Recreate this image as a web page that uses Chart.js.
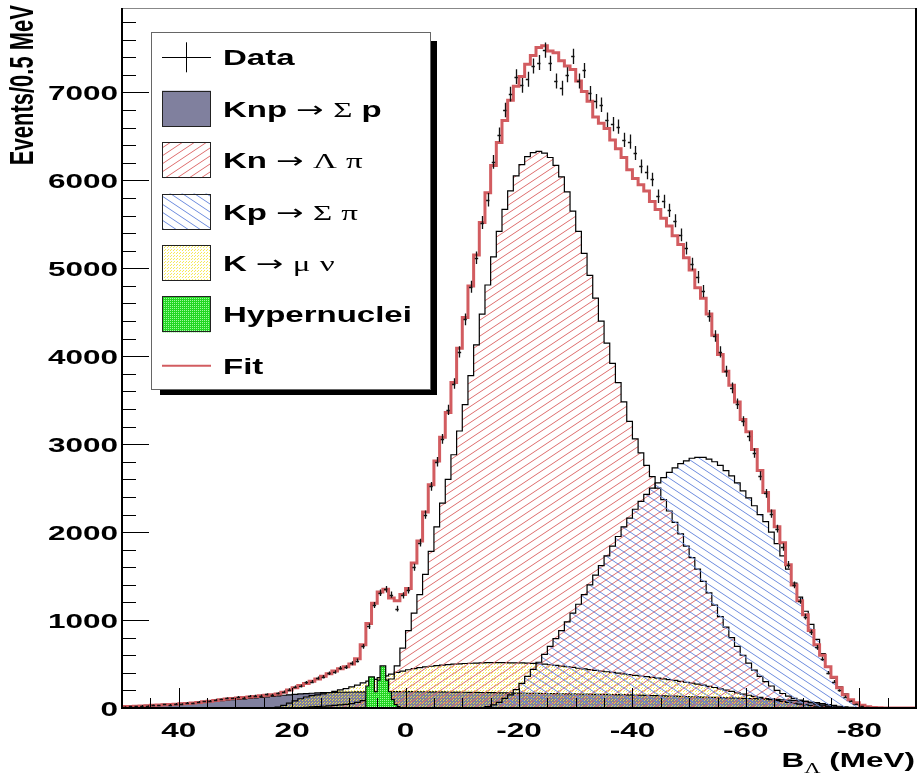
<!DOCTYPE html>
<html>
<head>
<meta charset="utf-8">
<script src="https://cdn.jsdelivr.net/npm/chart.js@4.4.0/dist/chart.umd.min.js"></script>
<style>
  html, body { margin: 0; padding: 0; background: #fff; }
</style>
</head>
<body>
<canvas id="myChart" width="920" height="775"></canvas>
<script>
// B_Lambda spectrum, axis runs from +50 (left) to -90 (right)
const xMin = -90;
const xMax = 50;
const yMax = 7960;

// 1 MeV bins, listed from the start edge toward -90; a value covers [edge-1, edge]
const fitStart = 50;
const fitValues = [
  16, 18, 20, 23, 26, 30, 33, 36, 40, 43,
  47, 52, 57, 63, 70, 77, 85, 93, 101, 108,
  114, 120, 126, 132, 138, 144, 150, 160, 180, 205,
  230, 255, 280, 305, 330, 360, 390, 420, 445, 470,
  500, 560, 720, 960, 1190, 1320, 1350, 1250, 1220, 1290,
  1360, 1650, 1900, 2230, 2540, 2810, 3080, 3360, 3700, 4090,
  4440, 4800, 5150, 5520, 5860, 6170, 6430, 6680, 6910, 7070,
  7180, 7320, 7420, 7510, 7530, 7470, 7450, 7360, 7300, 7260,
  7130, 7010, 6900, 6720, 6650, 6590, 6460, 6360, 6260, 6120,
  6020, 5950, 5880, 5760, 5670, 5570, 5480, 5370, 5270, 5120,
  4980, 4780, 4660, 4480, 4240, 4020, 3830, 3670, 3480, 3280,
  3140, 2940, 2700, 2450, 2240, 2060, 1880, 1630, 1400, 1220,
  1060, 880, 720, 600, 470, 350, 230, 150, 95, 60,
  32, 14, 6, 2, 1, 0, 0, 0, 0, 0
];

const dataStart = 50;
const dataValues = [
  15, 20, 18, 28, 25, 35, 30, 42, 38, 50,
  48, 60, 55, 72, 75, 82, 95, 98, 112, 110,
  125, 118, 135, 140, 142, 155, 150, 165, 185, 210,
  240, 250, 290, 300, 340, 355, 395, 410, 455, 465,
  510, 540, 700, 930, 1170, 1310, 1350, 1290, 1130, 1280,
  1340, 1600, 1880, 2200, 2520, 2800, 3060, 3390, 3690, 4050,
  4420, 4790, 5120, 5520, 5780, 6210, 6520, 6800, 6980, 7180,
  7080, 7150, 7300, 7340, 7480, 7330, 7130, 7050, 7200, 7410,
  7130, 7250, 6990, 6900, 6860, 6690, 6640, 6610, 6460, 6440,
  6310, 6160, 6090, 6010, 5820, 5760, 5660, 5540, 5380, 5230,
  5050, 4900, 4740, 4460, 4230, 4050, 3830, 3640, 3460, 3260,
  3090, 2900, 2640, 2440, 2210, 2040, 1830, 1630, 1400, 1220,
  1040, 860, 690, 560, 400, 300, 200, 130, 80, 45,
  22, 10, 5, 2, 1
];

const knpStart = 50;
const knpSigmaP = [
  15, 18, 21, 25, 29, 33, 37, 41, 45, 49,
  53, 57, 61, 65, 69, 74, 79, 84, 89, 94,
  99, 104, 109, 115, 121, 127, 133, 139, 145, 150,
  155, 160, 164, 168, 171, 174, 176, 178, 180, 181,
  182, 183, 184, 185, 185, 186, 186, 186, 186, 186,
  186, 186, 185, 185, 184, 184, 183, 182, 181, 180,
  179, 178, 177, 176, 175, 174, 173, 172, 171, 170,
  169, 168, 167, 166, 165, 164, 163, 162, 161, 160,
  159, 158, 157, 156, 155, 154, 153, 152, 151, 150,
  148, 146, 144, 142, 140, 138, 136, 134, 132, 130,
  128, 126, 124, 122, 120, 118, 116, 114, 112, 110,
  108, 106, 104, 102, 100, 97, 94, 90, 86, 81,
  75, 68, 60, 50, 40, 30, 20, 12, 6, 2
];

const kmuStart = 24;
const kMuNu = [
  0, 10, 30, 55, 80, 105, 125, 140, 150, 160,
  175, 190, 205, 220, 240, 260, 285, 305, 325, 345,
  365, 385, 405, 420, 435, 447, 458, 467, 475, 482,
  488, 493, 498, 502, 506, 509, 511, 513, 515, 516,
  516, 515, 514, 513, 512, 510, 507, 503, 498, 492,
  485, 477, 469, 461, 452, 444, 436, 428, 420, 412,
  404, 396, 388, 380, 372, 364, 356, 348, 340, 331,
  322, 313, 303, 293, 283, 272, 260, 247, 233, 218,
  203, 188, 173, 158, 145, 132, 120, 108, 96, 85,
  74, 64, 54, 44, 35, 27, 20, 14, 9, 5, 2
];

const knStart = 20;
const knLambdaPi = [
  2, 5, 8, 12, 16, 20, 25, 30, 36, 42,
  50, 65, 85, 110, 140, 180, 240, 330, 480, 680,
  880, 1080, 1290, 1520, 1780, 2060, 2330, 2600, 2880, 3150,
  3450, 3780, 4130, 4480, 4810, 5130, 5420, 5670, 5880, 6050,
  6180, 6270, 6315, 6330, 6310, 6260, 6170, 6040, 5870, 5650,
  5420, 5170, 4920, 4660, 4400, 4150, 3920, 3700, 3480, 3260,
  3060, 2900, 2760, 2630, 2500, 2370, 2240, 2110, 1980, 1840,
  1710, 1580, 1440, 1310, 1170, 1040, 920, 800, 700, 600,
  510, 430, 360, 300, 250, 200, 165, 135, 110, 90,
  75, 60, 45, 32, 22, 14, 8, 4, 2
];

const kpStart = -12;
const kpSigmaPi = [
  0, 5, 15, 35, 65, 110, 150, 210, 280, 360,
  440, 520, 610, 700, 790, 880, 980, 1080, 1180, 1290,
  1400, 1510, 1620, 1730, 1840, 1950, 2060, 2160, 2260, 2350,
  2430, 2500, 2560, 2620, 2680, 2730, 2780, 2810, 2840, 2850,
  2850, 2830, 2800, 2760, 2700, 2640, 2560, 2470, 2390, 2300,
  2200, 2120, 2000, 1870, 1730, 1580, 1420, 1260, 1100, 950,
  780, 620, 470, 340, 240, 160, 90, 45, 20, 8, 3
];

// hypernuclear peaks, original 0.5 MeV bins (upper edges)
const hyperEdges = [7.0, 6.5, 6.0, 5.5, 5.0, 4.5, 4.0, 3.5, 3.0, 2.5, 2.0, 1.5];
const hyperValues = [250, 353, 353, 185, 318, 478, 478, 318, 185, 95, 40, 15];

const yTicks = [0, 1000, 2000, 3000, 4000, 5000, 6000, 7000];
const xTicks = [40, 20, 0, -20, -40, -60, -80];

// ROOT style text is stretched horizontally in the picture
const stretch = 1.5;

function toSteps(start, values, width) {
  const pts = [{ x: start + width, y: 0 }];
  values.forEach((v, i) => pts.push({ x: start - i * width, y: v }));
  pts.push({ x: start - values.length * width, y: 0 });
  return pts;
}

function edgeSteps(edges, values, width) {
  const pts = [{ x: edges[0] + width, y: 0 }];
  edges.forEach((e, i) => pts.push({ x: e, y: values[i] }));
  pts.push({ x: edges[edges.length - 1] - width, y: 0 });
  return pts;
}

function hatch(color, up) {
  const c = document.createElement('canvas');
  const w = 12, h = 8;
  c.width = w; c.height = h;
  const g = c.getContext('2d');
  g.strokeStyle = color;
  g.lineWidth = 1;
  g.beginPath();
  [-h, 0, h].forEach(o => {
    if (up) { g.moveTo(0, h + o); g.lineTo(w, o); }
    else { g.moveTo(0, o); g.lineTo(w, h + o); }
  });
  g.stroke();
  return g.createPattern(c, 'repeat');
}

// dot pattern on an n x n tile
function dots(n, base, dot, spots) {
  const c = document.createElement('canvas');
  c.width = n; c.height = n;
  const g = c.getContext('2d');
  if (base) { g.fillStyle = base; g.fillRect(0, 0, n, n); }
  g.fillStyle = dot;
  spots.forEach(s => g.fillRect(s[0], s[1], 1, 1));
  return g.createPattern(c, 'repeat');
}

const redHatch = hatch('rgb(222,110,110)', true);
const blueHatch = hatch('rgb(110,140,222)', false);
const yellowDots = dots(3, null, 'rgba(245,230,60,0.85)', [[0, 0], [2, 1]]);
const greenDots = dots(2, 'rgb(35,215,35)', 'rgb(160,250,160)', [[0, 0]]);
const grayFill = 'rgb(128,128,158)';
const fitColor = 'rgb(210,92,96)';

const SYMS = '→ΣΛπμν';
function fontFor(ch, size) {
  if (ch === '→') return size + 'px "DejaVu Sans", sans-serif';
  if (SYMS.includes(ch)) return size + 'px "Liberation Serif", "DejaVu Serif", serif';
  return 'bold ' + size + 'px "Liberation Sans", Arial, sans-serif';
}

// draws mixed Latin / symbol text, stretched like the original
function drawRich(ctx, str, x, y, size, align) {
  const runs = [];
  for (const ch of str) {
    const f = fontFor(ch, size);
    const last = runs[runs.length - 1];
    if (last && last.f === f) last.t += ch; else runs.push({ t: ch, f: f });
  }
  let total = 0;
  runs.forEach(r => { ctx.font = r.f; r.w = ctx.measureText(r.t).width; total += r.w; });
  ctx.save();
  ctx.translate(x, y);
  ctx.scale(stretch, 1);
  ctx.textBaseline = 'alphabetic';
  ctx.textAlign = 'left';
  let cx = align === 'right' ? -total : align === 'center' ? -total / 2 : 0;
  runs.forEach(r => { ctx.font = r.f; ctx.fillText(r.t, cx, 0); cx += r.w; });
  ctx.restore();
}

const legendRows = ['Data', 'Knp → Σ p', 'Kn → Λ π', 'Kp → Σ π', 'K → μ ν', 'Hypernuclei', 'Fit'];

const rootStyle = {
  id: 'rootStyle',
  afterDatasetsDraw(chart) {
    const ctx = chart.ctx;
    const xs = chart.scales.x, ys = chart.scales.y;
    const a = chart.chartArea;

    // error bars of the data points
    const di = chart.data.datasets.findIndex(d => d.label === 'Data');
    const meta = chart.getDatasetMeta(di);
    ctx.save();
    ctx.beginPath();
    ctx.rect(a.left, a.top, a.right - a.left, a.bottom - a.top);
    ctx.clip();
    ctx.strokeStyle = '#111';
    ctx.lineWidth = 1.3;
    meta.data.forEach((pt, i) => {
      const raw = chart.data.datasets[di].data[i];
      const err = Math.sqrt(raw.y);
      const y1 = ys.getPixelForValue(raw.y - err);
      const y2 = ys.getPixelForValue(raw.y + err);
      const x1 = xs.getPixelForValue(raw.x + 0.3);
      const x2 = xs.getPixelForValue(raw.x - 0.3);
      const px = Math.round(pt.x) + 0.5;
      ctx.beginPath();
      ctx.moveTo(px, y1); ctx.lineTo(px, y2);
      ctx.moveTo(x1, Math.round(pt.y) + 0.5); ctx.lineTo(x2, Math.round(pt.y) + 0.5);
      ctx.stroke();
    });
    ctx.restore();

    // frame
    ctx.save();
    ctx.strokeStyle = '#888';
    ctx.lineWidth = 1;
    ctx.beginPath();
    ctx.moveTo(a.left, a.top + 0.5); ctx.lineTo(a.right, a.top + 0.5);
    ctx.stroke();
    ctx.strokeStyle = '#000';
    ctx.lineWidth = 2;
    ctx.beginPath();
    ctx.moveTo(a.left, a.top); ctx.lineTo(a.left, a.bottom);
    ctx.lineTo(a.right, a.bottom); ctx.lineTo(a.right, a.top);
    ctx.stroke();

    // inward ticks
    ctx.lineWidth = 1;
    ctx.beginPath();
    for (let v = 0; v <= yMax; v += 200) {
      const y = Math.round(ys.getPixelForValue(v)) + 0.5;
      const len = yTicks.includes(v) ? 27 : 14;
      ctx.moveTo(a.left, y); ctx.lineTo(a.left + len, y);
    }
    for (let v = xMin; v <= xMax; v += 5) {
      const x = Math.round(xs.getPixelForValue(v)) + 0.5;
      const len = xTicks.includes(v) ? 20 : 10;
      ctx.moveTo(x, a.bottom); ctx.lineTo(x, a.bottom - len);
    }
    ctx.stroke();

    // tick labels
    ctx.fillStyle = '#000';
    yTicks.forEach(v => drawRich(ctx, String(v), a.left - 4, ys.getPixelForValue(v) + 7.5, 21, 'right'));
    xTicks.forEach(v => drawRich(ctx, String(v), xs.getPixelForValue(v), a.bottom + 29, 21, 'center'));

    // axis titles
    ctx.save();
    ctx.translate(33, 5);
    ctx.scale(stretch, 1);
    ctx.rotate(-Math.PI / 2);
    ctx.font = 'bold 22px "Liberation Sans", Arial, sans-serif';
    ctx.textAlign = 'right';
    ctx.textBaseline = 'alphabetic';
    ctx.fillText('Events/0.5 MeV', 0, 0);
    ctx.restore();

    ctx.save();
    ctx.font = 'bold 21px "Liberation Sans", Arial, sans-serif';
    const wB = ctx.measureText('B').width;
    const wRest = ctx.measureText(' (MeV)').width;
    ctx.font = '15px "Liberation Serif", serif';
    const wL = ctx.measureText('Λ').width;
    const right = 915;
    const x0 = right - (wB + wL + wRest) * stretch;
    ctx.translate(x0, 767);
    ctx.scale(stretch, 1);
    ctx.font = 'bold 21px "Liberation Sans", Arial, sans-serif';
    ctx.fillText('B', 0, 0);
    ctx.font = '15px "Liberation Serif", serif';
    ctx.fillText('Λ', wB, 6);
    ctx.font = 'bold 21px "Liberation Sans", Arial, sans-serif';
    ctx.fillText(' (MeV)', wB + wL, 0);
    ctx.restore();
    ctx.restore();
  },
  afterDraw(chart) {
    const ctx = chart.ctx;
    ctx.save();
    // legend box with ROOT shadow
    ctx.fillStyle = '#000';
    ctx.fillRect(160, 41, 277, 354);
    ctx.fillStyle = '#fff';
    ctx.fillRect(151, 32, 280, 358);
    ctx.strokeStyle = '#666';
    ctx.lineWidth = 1;
    ctx.strokeRect(151.5, 32.5, 279, 357);

    legendRows.forEach((label, i) => {
      const cy = 57.3 + 51.4 * i;
      const ds = chart.data.datasets.find(d => d.label === label);
      const bx = 162, bw = 49, bh = 36;
      ctx.lineWidth = 1;
      if (label === 'Data') {
        ctx.strokeStyle = '#000';
        ctx.beginPath();
        ctx.moveTo(bx, Math.round(cy) + 0.5); ctx.lineTo(bx + bw, Math.round(cy) + 0.5);
        ctx.moveTo(186.5, cy - 15); ctx.lineTo(186.5, cy + 15);
        ctx.stroke();
      } else if (label === 'Fit') {
        ctx.strokeStyle = ds.borderColor;
        ctx.lineWidth = 2;
        ctx.beginPath();
        ctx.moveTo(bx, cy); ctx.lineTo(bx + bw, cy);
        ctx.stroke();
      } else {
        ctx.fillStyle = '#fff';
        ctx.fillRect(bx, cy - bh / 2, bw, bh);
        ctx.fillStyle = ds.backgroundColor;
        ctx.fillRect(bx, cy - bh / 2, bw, bh);
        ctx.strokeStyle = '#222';
        ctx.strokeRect(bx + 0.5, Math.round(cy - bh / 2) + 0.5, bw - 1, bh - 1);
      }
      ctx.fillStyle = '#000';
      drawRich(ctx, label, 223, cy + 8, 22, 'left');
    });
    ctx.restore();
  }
};

function histo(label, points, fill, order) {
  return {
    label: label,
    data: points,
    stepped: true,
    fill: 'origin',
    backgroundColor: fill,
    borderColor: '#000',
    borderWidth: 1.2,
    pointRadius: 0,
    order: order
  };
}

const dataPoints = dataValues.map((v, i) => ({ x: dataStart - i - 0.5, y: v })).filter(p => p.y > 0);

const ctx = document.getElementById('myChart').getContext('2d');
const chart = new Chart(ctx, {
  type: 'line',
  data: {
    datasets: [
      { label: 'Data', type: 'scatter', data: dataPoints, pointRadius: 0, showLine: false, order: 0 },
      { label: 'Fit', data: toSteps(fitStart, fitValues, 1), stepped: true, fill: false,
        borderColor: fitColor, borderWidth: 3, pointRadius: 0, order: 1 },
      histo('Hypernuclei', edgeSteps(hyperEdges, hyperValues, 0.5), greenDots, 2),
      histo('Kp → Σ π', toSteps(kpStart, kpSigmaPi, 1), blueHatch, 3),
      histo('Kn → Λ π', toSteps(knStart, knLambdaPi, 1), redHatch, 4),
      histo('K → μ ν', toSteps(kmuStart, kMuNu, 1), yellowDots, 5),
      histo('Knp → Σ p', toSteps(knpStart, knpSigmaP, 1), grayFill, 6)
    ]
  },
  options: {
    responsive: false,
    animation: false,
    layout: { padding: { left: 122, right: 4, top: 8, bottom: 67 } },
    scales: {
      x: { type: 'linear', reverse: true, min: xMin, max: xMax, display: false },
      y: { type: 'linear', min: 0, max: yMax, display: false }
    },
    plugins: {
      legend: { display: false },
      tooltip: { enabled: false }
    }
  },
  plugins: [rootStyle]
});
</script>
</body>
</html>
